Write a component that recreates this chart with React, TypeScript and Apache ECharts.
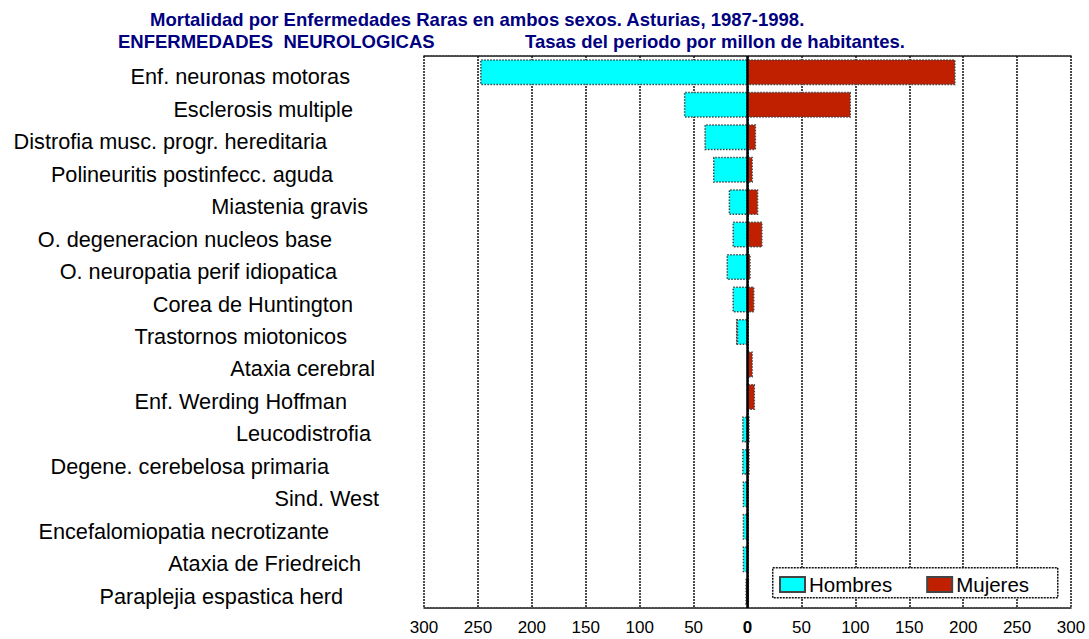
import React, { useEffect, useRef } from "react";
import * as echarts from "echarts";

const categories = [
  "Enf. neuronas motoras",
  "Esclerosis multiple",
  "Distrofia musc. progr. hereditaria",
  "Polineuritis postinfecc. aguda",
  "Miastenia gravis",
  "O. degeneracion nucleos base",
  "O. neuropatia perif idiopatica",
  "Corea de Huntington",
  "Trastornos miotonicos",
  "Ataxia cerebral",
  "Enf. Werding Hoffman",
  "Leucodistrofia",
  "Degene. cerebelosa primaria",
  "Sind. West",
  "Encefalomiopatia necrotizante",
  "Ataxia de Friedreich",
  "Paraplejia espastica herd",
];

// Hombres drawn to the left (negative), Mujeres to the right
const hombres = [-248, -59, -40, -32, -17.5, -14, -19.5, -14, -10, 0, 0, -5, -5, -4.5, -4.5, -4.5, -2];
const mujeres = [193, 96, 8, 5, 10, 14, 3, 6.5, 0, 5, 7, 2, 2, 0.5, 0.5, 0.5, 1.5];

const xTicks = [-300, -250, -200, -150, -100, -50, 0, 50, 100, 150, 200, 250, 300];

// right edge (px) of each category label as in the original layout
const labelRightEdge = [350, 353, 327, 333, 368, 332, 337, 353, 347, 375, 347, 371, 329, 379, 329, 361, 343];

const FONT = "'Liberation Sans', Arial, Helvetica, sans-serif";
const GRID_LEFT = 424;

export default function App() {
  const ref = useRef<HTMLDivElement>(null);
  useEffect(() => {
    if (!ref.current) return;
    const chart = echarts.init(ref.current, undefined, { renderer: "svg" });
    const rich: Record<string, any> = {};
    labelRightEdge.forEach((r, i) => {
      rich["p" + i] = {
        fontSize: 21.7,
        fontFamily: FONT,
        color: "#000",
        padding: [9, GRID_LEFT - r, 0, 0],
      };
    });
    const gridLine = { color: "#111", width: 1.5, type: [2, 1] as any };
    const barBorder = { borderColor: "#444", borderWidth: 1.5, borderType: "dotted" as any };
    const titleStyle = { fontSize: 18.5, fontWeight: "bold", color: "#000080", fontFamily: FONT };
    chart.setOption({
      animation: false,
      backgroundColor: "#fff",
      textStyle: { fontFamily: FONT },
      title: [
        {
          text: "Mortalidad por Enfermedades Raras en ambos sexos. Asturias, 1987-1998.",
          left: 150,
          top: 10,
          textStyle: titleStyle,
          padding: 0,
        },
        {
          text: "ENFERMEDADES  NEUROLOGICAS",
          left: 118,
          top: 32,
          textStyle: titleStyle,
          padding: 0,
        },
        {
          text: "Tasas del periodo por millon de habitantes.",
          left: 525,
          top: 32,
          textStyle: titleStyle,
          padding: 0,
        },
      ],
      legend: {
        data: ["Hombres", "Mujeres"],
        left: 779,
        top: 574,
        padding: 0,
        itemWidth: 25,
        itemHeight: 15,
        itemGap: 34,
        z: 10,
        icon: "rect",
        textStyle: { fontSize: 20.5, color: "#000", fontFamily: FONT, padding: [2, 0, 0, -1] },
      },
      graphic: [
        {
          type: "rect",
          left: 772,
          top: 567,
          z: 8,
          shape: { width: 285, height: 30 },
          style: { fill: "#fff", stroke: "#111", lineWidth: 1.5, lineDash: [2, 1] },
        },
      ],
      grid: { left: GRID_LEFT, right: 18, top: 56, bottom: 31, containLabel: false },
      xAxis: [
        {
          type: "value",
          min: -300,
          max: 300,
          interval: 50,
          axisLine: { show: true, lineStyle: gridLine },
          axisTick: { show: false },
          splitLine: { show: true, showMinLine: true, showMaxLine: true, lineStyle: gridLine },
          axisLabel: {
            margin: 11,
            fontSize: 17,
            color: "#000",
            fontFamily: FONT,
            formatter: (v: number) => (v === 0 ? "{b|0}" : String(Math.abs(v))),
            rich: { b: { fontSize: 17, fontWeight: "bold", color: "#000", fontFamily: FONT } },
          },
        },
        {
          type: "value",
          position: "top",
          min: -300,
          max: 300,
          interval: 50,
          axisLine: { show: true, lineStyle: gridLine },
          axisTick: { show: false },
          splitLine: { show: false },
          axisLabel: { show: false },
        },
      ],
      yAxis: {
        type: "category",
        data: categories,
        inverse: true,
        axisLine: { show: false },
        axisTick: { show: false },
        splitLine: { show: false },
        axisLabel: {
          margin: 0,
          formatter: (v: string, i: number) => `{p${i}|${v}}`,
          rich,
        },
      },
      series: [
        {
          name: "Hombres",
          type: "bar",
          stack: "t",
          xAxisIndex: 0,
          barWidth: "80%",
          data: hombres,
          itemStyle: { color: "#00FFFF", ...barBorder },
          markLine: {
            silent: true,
            symbol: "none",
            label: { show: false },
            lineStyle: { color: "#000", width: 2.5, type: "solid" },
            data: [{ xAxis: 0 }],
            z: 5,
          },
        },
        {
          name: "Mujeres",
          type: "bar",
          stack: "t",
          xAxisIndex: 0,
          barWidth: "80%",
          data: mujeres,
          itemStyle: { color: "#C02000", ...barBorder },
        },
      ],
    });
    return () => chart.dispose();
  }, []);
  return (
    <div
      ref={ref}
      style={{ position: "absolute", left: 0, top: 0, width: 1089, height: 639 }}
    />
  );
}
